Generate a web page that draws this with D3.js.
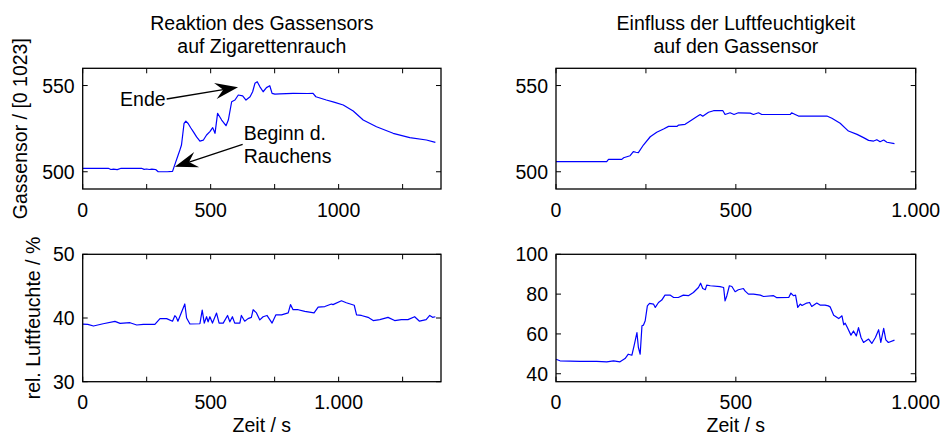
<!DOCTYPE html>
<html>
<head>
<meta charset="utf-8">
<script src="https://cdn.jsdelivr.net/npm/d3@7"></script>
<style>
  html, body { margin: 0; padding: 0; background: #fff; }
  svg { display: block; }
  text { font-family: "Liberation Sans", Arial, sans-serif; fill: #000; }
</style>
</head>
<body>
<svg id="chart" width="941" height="437"></svg>
<script>
// ---------- data ----------
// Panel 1: Gassensor reaction to cigarette smoke (time s, raw value)
const smokeTime = [0, 60, 100, 110, 120, 135, 150, 230, 240, 250, 260, 270, 285, 295, 330, 351, 362, 373, 380, 386, 396, 403, 412, 422, 432, 445, 458, 471, 484, 497, 508, 517, 527, 543, 560, 569, 582, 595, 608, 625, 638, 654, 664, 673, 682, 692, 705, 718, 731, 740, 751, 770, 822, 880, 900, 911, 952, 985, 1018, 1057, 1096, 1148, 1213, 1278, 1343, 1378];
const smokeGas  = [502, 502, 502, 501.3, 501.5, 501.2, 502, 502, 501.4, 501.6, 501.3, 501.5, 501.3, 500, 500, 500.2, 505, 509.7, 512.7, 515.5, 528, 529.4, 528, 525.5, 523.3, 520.2, 517.8, 518.3, 521.3, 523.3, 525.6, 522.3, 533.9, 530, 526.7, 530, 540.6, 541.6, 544.5, 544, 541.6, 543.5, 546.4, 551.3, 552.2, 549.4, 546.4, 548.8, 549.9, 545.5, 545, 545.2, 545.5, 545.4, 545.5, 543.5, 541.6, 540.2, 538.7, 535.2, 530, 526.1, 522.3, 519.8, 518.4, 517];
// Panel 3: relative humidity during smoke test (%)
const smokeHumTime = [0, 20, 42, 80, 126, 146, 185, 211, 237, 282, 302, 328, 351, 360, 366, 372, 399, 406, 419, 458, 467, 475, 484, 490, 497, 507, 523, 533, 549, 566, 575, 585, 594, 614, 620, 633, 646, 659, 666, 679, 692, 705, 720, 740, 755, 777, 803, 812, 822, 842, 868, 904, 920, 946, 972, 978, 1011, 1030, 1061, 1070, 1089, 1115, 1135, 1161, 1193, 1219, 1245, 1271, 1297, 1316, 1342, 1356, 1367, 1378];
const smokeHum = [39.05, 39.0, 38.74, 39.1, 39.47, 39.16, 39.26, 38.9, 39.0, 39.0, 39.9, 39.9, 39.5, 40.36, 40.1, 39.5, 42.2, 40.0, 39.06, 39.1, 41.25, 39.2, 40.2, 39.4, 40.2, 39.2, 40.78, 39.2, 39.2, 40.4, 39.4, 40.2, 39.2, 39.2, 40.4, 39.5, 39.9, 40.1, 41.3, 40.8, 39.7, 40.2, 40.4, 39.2, 40.5, 40.5, 40.8, 42.1, 41.3, 41.3, 41.05, 40.8, 41.7, 41.8, 42.2, 42.1, 42.7, 42.4, 42.0, 40.5, 40.4, 40.1, 39.6, 39.75, 40.1, 39.6, 39.75, 39.75, 40.2, 39.5, 39.75, 40.4, 40.1, 40.2];
// Panel 2: humidity influence on gas sensor
const humTime = [0, 141, 146, 183, 188, 206, 215, 222, 229, 243, 262, 280, 299, 313, 336, 341, 359, 373, 391, 401, 408, 424, 438, 464, 470, 484, 495, 507, 540, 549, 563, 572, 651, 655, 665, 674, 753, 767, 790, 813, 837, 855, 869, 883, 892, 901, 911, 920, 941];
const humGas  = [505.9, 505.9, 507.2, 507.2, 508.1, 509.3, 511.7, 511.3, 511.1, 515.5, 520.3, 522.9, 524.8, 526.3, 526.3, 527.1, 527.5, 529.4, 531.9, 533.2, 532.2, 534.5, 535.4, 535.4, 533.2, 534.2, 533.2, 534.2, 534.0, 533.2, 534.2, 533.2, 533.2, 534.2, 533.2, 532.3, 532.3, 531, 528.1, 523.6, 521.7, 519.8, 518.2, 517.8, 518.6, 517.4, 518.4, 517.1, 516.3];
// Panel 4: relative humidity (%)
const humRelTime = [0, 11, 67, 113, 141, 160, 178, 192, 201, 211, 217, 225, 229, 234, 239, 243, 248, 254, 260, 271, 276, 285, 294, 303, 317, 327, 340, 354, 368, 382, 396, 402, 408, 415, 419, 429, 456, 466, 470, 475, 482, 489, 498, 507, 521, 526, 535, 549, 568, 577, 605, 614, 647, 653, 660, 666, 672, 679, 684, 697, 705, 711, 721, 725, 734, 748, 757, 762, 772, 786, 795, 800, 804, 810, 820, 827, 835, 841, 848, 855, 869, 878, 888, 897, 903, 911, 917, 924, 941];
const humRel = [47.3, 46.5, 46.2, 46.2, 46.0, 46.5, 46.0, 47.6, 49.8, 49.3, 54, 60.7, 53.3, 49.8, 64.1, 64.4, 66.6, 74.1, 75.3, 75.0, 73.3, 75.8, 77, 79.5, 79.5, 78.3, 78.3, 79.5, 79.2, 80.8, 83.3, 85.5, 82.8, 82.2, 84.5, 84.2, 83.8, 83.3, 76.6, 79.2, 84.2, 83.8, 81.2, 82.2, 82.8, 81.5, 80, 80, 79.5, 78.8, 79.2, 78.2, 78.3, 80.5, 79.2, 79.5, 73.3, 75, 74.3, 75.5, 75.8, 73.8, 75, 75.5, 74.5, 74.5, 74.1, 73.6, 69.4, 67.7, 69.1, 64.6, 65.4, 63.2, 59.4, 61.5, 59, 63.2, 58.2, 55.7, 57.4, 55.2, 58.2, 62.1, 55.7, 62.8, 57, 55.7, 56.9];

// axes settings
const titles = [["Reaktion des Gassensors", "auf Zigarettenrauch"], ["Einfluss der Luftfeuchtigkeit", "auf den Gassensor"]];
const yLabels = ["Gassensor / [0 1023]", "rel. Luftfeuchte / %"];
const xLabel = "Zeit / s";
const xTicks = [0, 250, 500, 750, 1000, 1250];
const xTickLabelsP1 = {0: "0", 500: "500", 1000: "1000"};
const xTickLabelsOther = {0: "0", 500: "500", 1000: "1.000"};
const gasTicks = [500, 550];
const smokeHumTicks = [30, 40, 50];
const humRelTicks = [40, 60, 80, 100];

// annotations (data coordinates of panel 1)
const annotEnde = {text: ["Ende"], from: [328, 542.2], to: [607, 549]};
const annotBeginn = {text: ["Beginn d.", "Rauchens"], from: [625, 515.9], to: [360, 502.9]};

// ---------- drawing ----------
const svg = d3.select("#chart");
svg.append("rect").attr("width", 941).attr("height", 437).attr("fill", "#fff");

const FS = 19.5;
const colL = [82.7, 441], colR = [556, 915.7];
const rowT = [68.3, 189], rowB = [254.3, 381.7];

function panel(opts) {
  const {xr, yr, xDomain, yDomain, xs, ys, yTicks, xLabels, title, ylabel, ylabelX, showXLabel} = opts;
  const x = d3.scaleLinear().domain(xDomain).range(xr);
  const y = d3.scaleLinear().domain(yDomain).range([yr[1], yr[0]]);
  const g = svg.append("g");
  const tl = 5;

  // line
  const line = d3.line().x(d => x(d[0])).y(d => y(d[1]));
  g.append("path")
    .datum(xs.map((v, i) => [v, ys[i]]))
    .attr("d", line)
    .attr("fill", "none")
    .attr("stroke", "#0000ff")
    .attr("stroke-width", 1.2)
    .attr("stroke-linejoin", "round");

  // ticks (inward, all four sides)
  const xt = xTicks.filter(t => t >= xDomain[0] && t <= xDomain[1]);
  xt.forEach(t => {
    g.append("line").attr("x1", x(t)).attr("x2", x(t)).attr("y1", yr[1]).attr("y2", yr[1] - tl).attr("stroke", "#000");
    g.append("line").attr("x1", x(t)).attr("x2", x(t)).attr("y1", yr[0]).attr("y2", yr[0] + tl).attr("stroke", "#000");
    if (xLabels[t] !== undefined) {
      g.append("text").attr("x", x(t)).attr("y", yr[1] + 27.6)
        .attr("text-anchor", "middle").attr("font-size", FS).text(xLabels[t]);
    }
  });
  yTicks.forEach(t => {
    g.append("line").attr("x1", xr[0]).attr("x2", xr[0] + tl).attr("y1", y(t)).attr("y2", y(t)).attr("stroke", "#000");
    g.append("line").attr("x1", xr[1]).attr("x2", xr[1] - tl).attr("y1", y(t)).attr("y2", y(t)).attr("stroke", "#000");
    g.append("text").attr("x", xr[0] - 8).attr("y", y(t)).attr("dy", "0.36em")
      .attr("text-anchor", "end").attr("font-size", FS).text(t);
  });

  // box
  g.append("rect").attr("x", xr[0]).attr("y", yr[0]).attr("width", xr[1] - xr[0]).attr("height", yr[1] - yr[0])
    .attr("fill", "none").attr("stroke", "#000").attr("stroke-width", 1.3);

  if (title) {
    const cx = (xr[0] + xr[1]) / 2;
    title.forEach((t, i) => g.append("text").attr("x", cx).attr("y", 30 + i * 23.3)
      .attr("text-anchor", "middle").attr("font-size", FS).text(t));
  }
  if (ylabel) {
    const cy = (yr[0] + yr[1]) / 2;
    g.append("text").attr("transform", `translate(${ylabelX},${cy}) rotate(-90)`)
      .attr("text-anchor", "middle").attr("font-size", FS).text(ylabel);
  }
  if (showXLabel) {
    g.append("text").attr("x", (xr[0] + xr[1]) / 2).attr("y", 432)
      .attr("text-anchor", "middle").attr("font-size", FS).text(xLabel);
  }
  return {x, y, g};
}

const p1 = panel({xr: colL, yr: rowT, xDomain: [0, 1400], yDomain: [490, 560], xs: smokeTime, ys: smokeGas,
  yTicks: gasTicks, xLabels: xTickLabelsP1, title: titles[0], ylabel: yLabels[0], ylabelX: 26.5});
panel({xr: colR, yr: rowT, xDomain: [0, 1000], yDomain: [490, 560], xs: humTime, ys: humGas,
  yTicks: gasTicks, xLabels: xTickLabelsOther, title: titles[1]});
panel({xr: colL, yr: rowB, xDomain: [0, 1400], yDomain: [30, 50], xs: smokeHumTime, ys: smokeHum,
  yTicks: smokeHumTicks, xLabels: xTickLabelsOther, ylabel: yLabels[1], ylabelX: 39.5, showXLabel: true});
panel({xr: colR, yr: rowB, xDomain: [0, 1000], yDomain: [36, 100], xs: humRelTime, ys: humRel,
  yTicks: humRelTicks, xLabels: xTickLabelsOther, showXLabel: true});

// arrows
function arrow(p, a, anchor) {
  const x0 = p.x(a.from[0]), y0 = p.y(a.from[1]);
  const x1 = p.x(a.to[0]), y1 = p.y(a.to[1]);
  const ang = Math.atan2(y1 - y0, x1 - x0);
  const L = 23, W = 8, N = 15;
  const ux = Math.cos(ang), uy = Math.sin(ang), nx = -uy, ny = ux;
  const bx = x1 - ux * L, by = y1 - uy * L;
  const mx = x1 - ux * N, my = y1 - uy * N;
  p.g.append("line").attr("x1", x0).attr("y1", y0).attr("x2", mx).attr("y2", my)
    .attr("stroke", "#000").attr("stroke-width", 1.3);
  p.g.append("path")
    .attr("d", `M${x1},${y1} L${bx + nx * W},${by + ny * W} L${mx},${my} L${bx - nx * W},${by - ny * W} Z`)
    .attr("fill", "#000");
  const n = a.text.length;
  a.text.forEach((t, i) => {
    p.g.append("text")
      .attr("x", anchor === "end" ? x0 - 1 : x0 + 1)
      .attr("y", y0 + (i - (n - 1) / 2) * 23)
      .attr("dy", "0.36em")
      .attr("text-anchor", anchor).attr("font-size", FS).text(t);
  });
}
arrow(p1, annotEnde, "end");
arrow(p1, annotBeginn, "start");
</script>
</body>
</html>
